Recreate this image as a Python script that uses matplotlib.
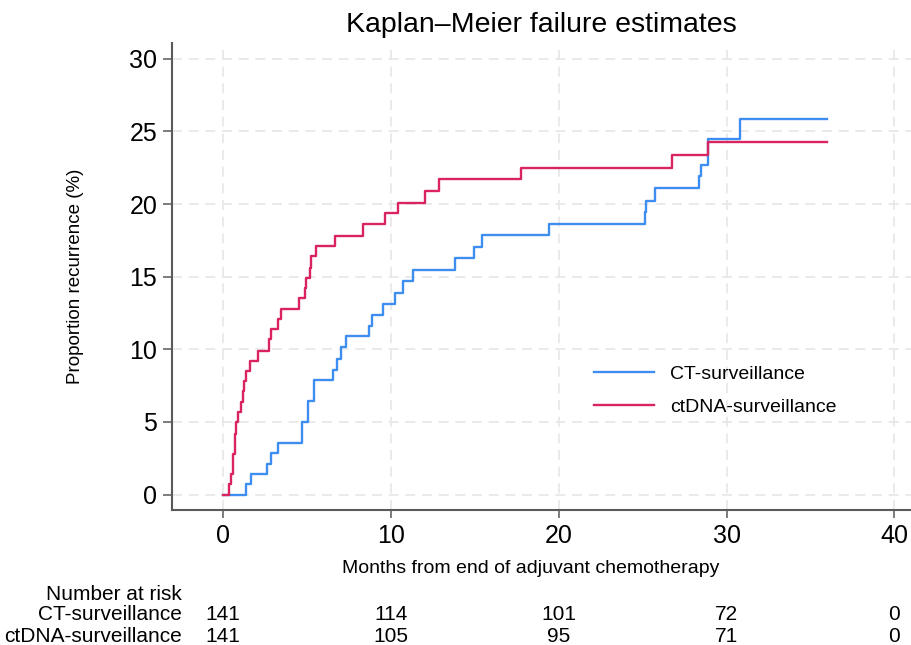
import matplotlib
matplotlib.use("Agg")
import matplotlib.pyplot as plt
from matplotlib.transforms import blended_transform_factory

plt.rcParams['font.family'] = ['Liberation Sans', 'DejaVu Sans']

# Kaplan-Meier failure curves (months, % recurrence)
ct_time = [0, 1.35, 1.64, 2.63, 2.87, 3.27, 4.67, 4.70, 5.07, 5.41, 6.53, 6.79,
           6.99, 7.29, 8.67, 8.87, 9.50, 10.26, 10.69, 11.33, 13.82, 14.97, 15.41,
           19.43, 25.15, 25.20, 25.73, 28.38, 28.50, 28.88, 30.80, 36.0]
ct_fail = [0, 0.73, 1.42, 2.13, 2.87, 3.56, 4.27, 4.98, 6.42, 7.87, 8.60, 9.33,
           10.16, 10.89, 11.63, 12.39, 13.14, 13.88, 14.68, 15.48, 16.26, 17.06, 17.84,
           18.65, 19.43, 20.23, 21.08, 21.90, 22.70, 24.48, 25.86, 25.86]

dna_time = [0, 0.36, 0.46, 0.57, 0.69, 0.79, 0.87, 1.05, 1.15, 1.25, 1.35, 1.58,
            2.08, 2.73, 2.87, 3.27, 3.43, 4.51, 4.87, 4.95, 5.17, 5.21, 5.54, 6.65,
            8.32, 9.66, 10.44, 12.0, 12.83, 17.72, 26.76, 28.88, 36.0]
dna_fail = [0, 0.69, 1.4, 2.8, 4.2, 5.0, 5.7, 6.4, 7.1, 7.8, 8.5, 9.2,
            9.9, 10.7, 11.4, 12.1, 12.8, 13.5, 14.2, 14.9, 15.6, 16.4, 17.1, 17.8,
            18.6, 19.4, 20.1, 20.9, 21.7, 22.5, 23.4, 24.3, 24.3]

# number at risk table
risk_times = [0, 10, 20, 30, 40]
ct_risk = [141, 114, 101, 72, 0]
dna_risk = [141, 105, 95, 71, 0]

blue = '#3d8ef0'
red = '#d92460'

fig = plt.figure(figsize=(9.11, 6.45), dpi=100)
ax = fig.add_axes([0.1885, 0.209, 0.811, 0.7245])

ax.step(ct_time, ct_fail, where='post', color=blue, lw=1.7, label='CT-surveillance')
ax.step(dna_time, dna_fail, where='post', color=red, lw=1.7, label='ctDNA-surveillance')

ax.set_xlim(-3.07, 40.96)
ax.set_ylim(-1.08, 31.1)
ax.set_xticks(risk_times)
ax.set_yticks(range(0, 31, 5))
ax.grid(True, color='#e6e6e6', lw=1.2, dashes=(6, 4))
ax.set_axisbelow(True)

for s in ['top', 'right']:
    ax.spines[s].set_visible(False)
for s in ['left', 'bottom']:
    ax.spines[s].set_color('#5a5a5a')
    ax.spines[s].set_linewidth(1.5)
ax.tick_params(axis='y', length=6.5, width=1.1, color='#5a5a5a', labelsize=18, pad=4)
ax.tick_params(axis='x', length=6, width=1.1, color='#5a5a5a', labelsize=18, pad=4)

fig.text(541 / 911, 1 - 25 / 645, 'Kaplan\u2013Meier failure estimates',
         ha='center', va='center', fontsize=20.5)
ax.set_xlabel('Months from end of adjuvant chemotherapy', fontsize=14, va='center')
ax.xaxis.set_label_coords(0.486, -0.124)
ax.set_ylabel('Proportion recurrence (%)', fontsize=13.5, va='center')
ax.yaxis.set_label_coords(-0.13, 0.5)

ax.legend(loc='center left', bbox_to_anchor=(0.571, 0.256), frameon=False,
          fontsize=14, handlelength=3.1, handletextpad=0.85, labelspacing=0.8,
          borderaxespad=0, borderpad=0)

# risk table under the axis
tr = blended_transform_factory(ax.transData, fig.transFigure)
lab_x = 182 / 911
fig.text(lab_x, 1 - 594 / 645, 'Number at risk', ha='right', va='center', fontsize=15)
fig.text(lab_x, 1 - 615 / 645, 'CT-surveillance', ha='right', va='center', fontsize=15)
fig.text(lab_x, 1 - 637 / 645, 'ctDNA-surveillance', ha='right', va='center', fontsize=15)
for t, a, b in zip(risk_times, ct_risk, dna_risk):
    ax.text(t, 1 - 615 / 645, str(a), transform=tr, ha='center', va='center',
            fontsize=15, clip_on=False)
    ax.text(t, 1 - 637 / 645, str(b), transform=tr, ha='center', va='center',
            fontsize=15, clip_on=False)

fig.savefig('out.png', dpi=100)
